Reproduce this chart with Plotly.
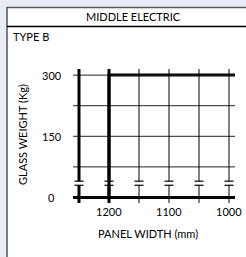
import plotly.graph_objects as go

# ---- data ----
panel_width = [1200, 1200, 990]      # mm
glass_weight = [0, 300, 300]         # kg
x_grid = [1250, 1200, 1150, 1100, 1050, 1000]
y_grid = [300, 225, 150, 75]
x_tick_vals = [1200, 1100, 1000]
x_tick_text = ["1200", "1100", "1000"]
y_tick_vals = [300, 150, 0]
y_tick_text = ["300", "150", "0"]
title_text = "MIDDLE ELECTRIC"
subtitle_text = "TYPE B"
x_title = "PANEL WIDTH (mm)"
y_title = "GLASS WEIGHT (Kg)"

# ---- layout geometry ----
W, H = 246, 257
L, R, T, B = 73, 11, 69, 54
PW, PH = W - L - R, H - T - B
X_RANGE = [1260, 990]
Y_RANGE = [-13.5, 315]
BREAK_LO, BREAK_HI = 30, 40
FONT = "Lato"


def px_x(p):
    return (p - L) / PW


def px_y(p):
    return (H - B - p) / PH


mm_per_px = (X_RANGE[0] - X_RANGE[1]) / PW

fig = go.Figure()
shapes = []

# background panel
shapes.append(dict(type="rect", xref="paper", yref="paper",
                   x0=px_x(7), x1=px_x(260), y0=px_y(270), y1=px_y(7.5),
                   fillcolor="white", line=dict(color="#555555", width=1.5), layer="below"))
shapes.append(dict(type="line", xref="paper", yref="paper",
                   x0=px_x(7), x1=px_x(260), y0=px_y(26.5), y1=px_y(26.5),
                   line=dict(color="black", width=1.5)))

# horizontal grid
for yv in y_grid:
    shapes.append(dict(type="line", xref="x", yref="y", x0=X_RANGE[0], x1=X_RANGE[1],
                       y0=yv, y1=yv, line=dict(color="#222222", width=1)))
# bottom axis
shapes.append(dict(type="line", xref="x", yref="y", x0=X_RANGE[0], x1=X_RANGE[1],
                   y0=0, y1=0, line=dict(color="black", width=3)))

# vertical grid with break
for xv in x_grid:
    w = 3 if xv in (1250, 1200) else 1
    shapes.append(dict(type="line", xref="x", yref="y", x0=xv, x1=xv,
                       y0=BREAK_HI, y1=Y_RANGE[1], line=dict(color="black", width=w)))
    shapes.append(dict(type="line", xref="x", yref="y", x0=xv, x1=xv,
                       y0=Y_RANGE[0], y1=BREAK_LO, line=dict(color="black", width=w)))
    for yb in (BREAK_LO, BREAK_HI):
        shapes.append(dict(type="line", xref="x", yref="y",
                           x0=xv - 4.5 * mm_per_px, x1=xv + 4.5 * mm_per_px,
                           y0=yb, y1=yb, line=dict(color="black", width=1.2)))

fig.add_trace(go.Scatter(x=panel_width, y=glass_weight, mode="lines",
                         line=dict(color="black", width=3), hoverinfo="skip",
                         showlegend=False, cliponaxis=False))

annotations = []
annotations.append(dict(text=title_text, xref="paper", yref="paper",
                        x=px_x(133), y=px_y(16.5), showarrow=False,
                        xanchor="center", yanchor="middle",
                        font=dict(family=FONT, size=11, color="black")))
annotations.append(dict(text=subtitle_text, xref="paper", yref="paper",
                        x=px_x(11), y=px_y(36), showarrow=False,
                        xanchor="left", yanchor="middle",
                        font=dict(family=FONT, size=11, color="black")))
for v, t in zip(y_tick_vals, y_tick_text):
    annotations.append(dict(text=t, xref="paper", yref="y", x=px_x(51.5), y=v,
                            showarrow=False, xanchor="center", yanchor="middle",
                            font=dict(family=FONT, size=11, color="black")))
for v, t in zip(x_tick_vals, x_tick_text):
    annotations.append(dict(text=t, xref="x", yref="paper", x=v, y=px_y(211),
                            showarrow=False, xanchor="center", yanchor="middle",
                            font=dict(family=FONT, size=11, color="black")))
annotations.append(dict(text=x_title, xref="paper", yref="paper",
                        x=px_x(148), y=px_y(233), showarrow=False,
                        xanchor="center", yanchor="middle",
                        font=dict(family=FONT, size=11, color="black")))
annotations.append(dict(text=y_title, xref="paper", yref="paper",
                        x=px_x(22), y=px_y(135), showarrow=False, textangle=-90,
                        xanchor="center", yanchor="middle",
                        font=dict(family=FONT, size=11, color="black")))

fig.update_layout(
    width=W, height=H,
    margin=dict(l=L, r=R, t=T, b=B, pad=0),
    paper_bgcolor="#e9ecf5", plot_bgcolor="rgba(0,0,0,0)",
    shapes=shapes, annotations=annotations,
    xaxis=dict(range=X_RANGE, visible=False, fixedrange=True),
    yaxis=dict(range=Y_RANGE, visible=False, fixedrange=True),
    showlegend=False,
)

fig.write_html(
    "out.html",
    config={"displayModeBar": False},
    post_script="document.body.style.margin='0';document.body.style.padding='0';"
                "document.body.style.overflow='hidden';"
                "document.documentElement.style.overflow='hidden';",
)
